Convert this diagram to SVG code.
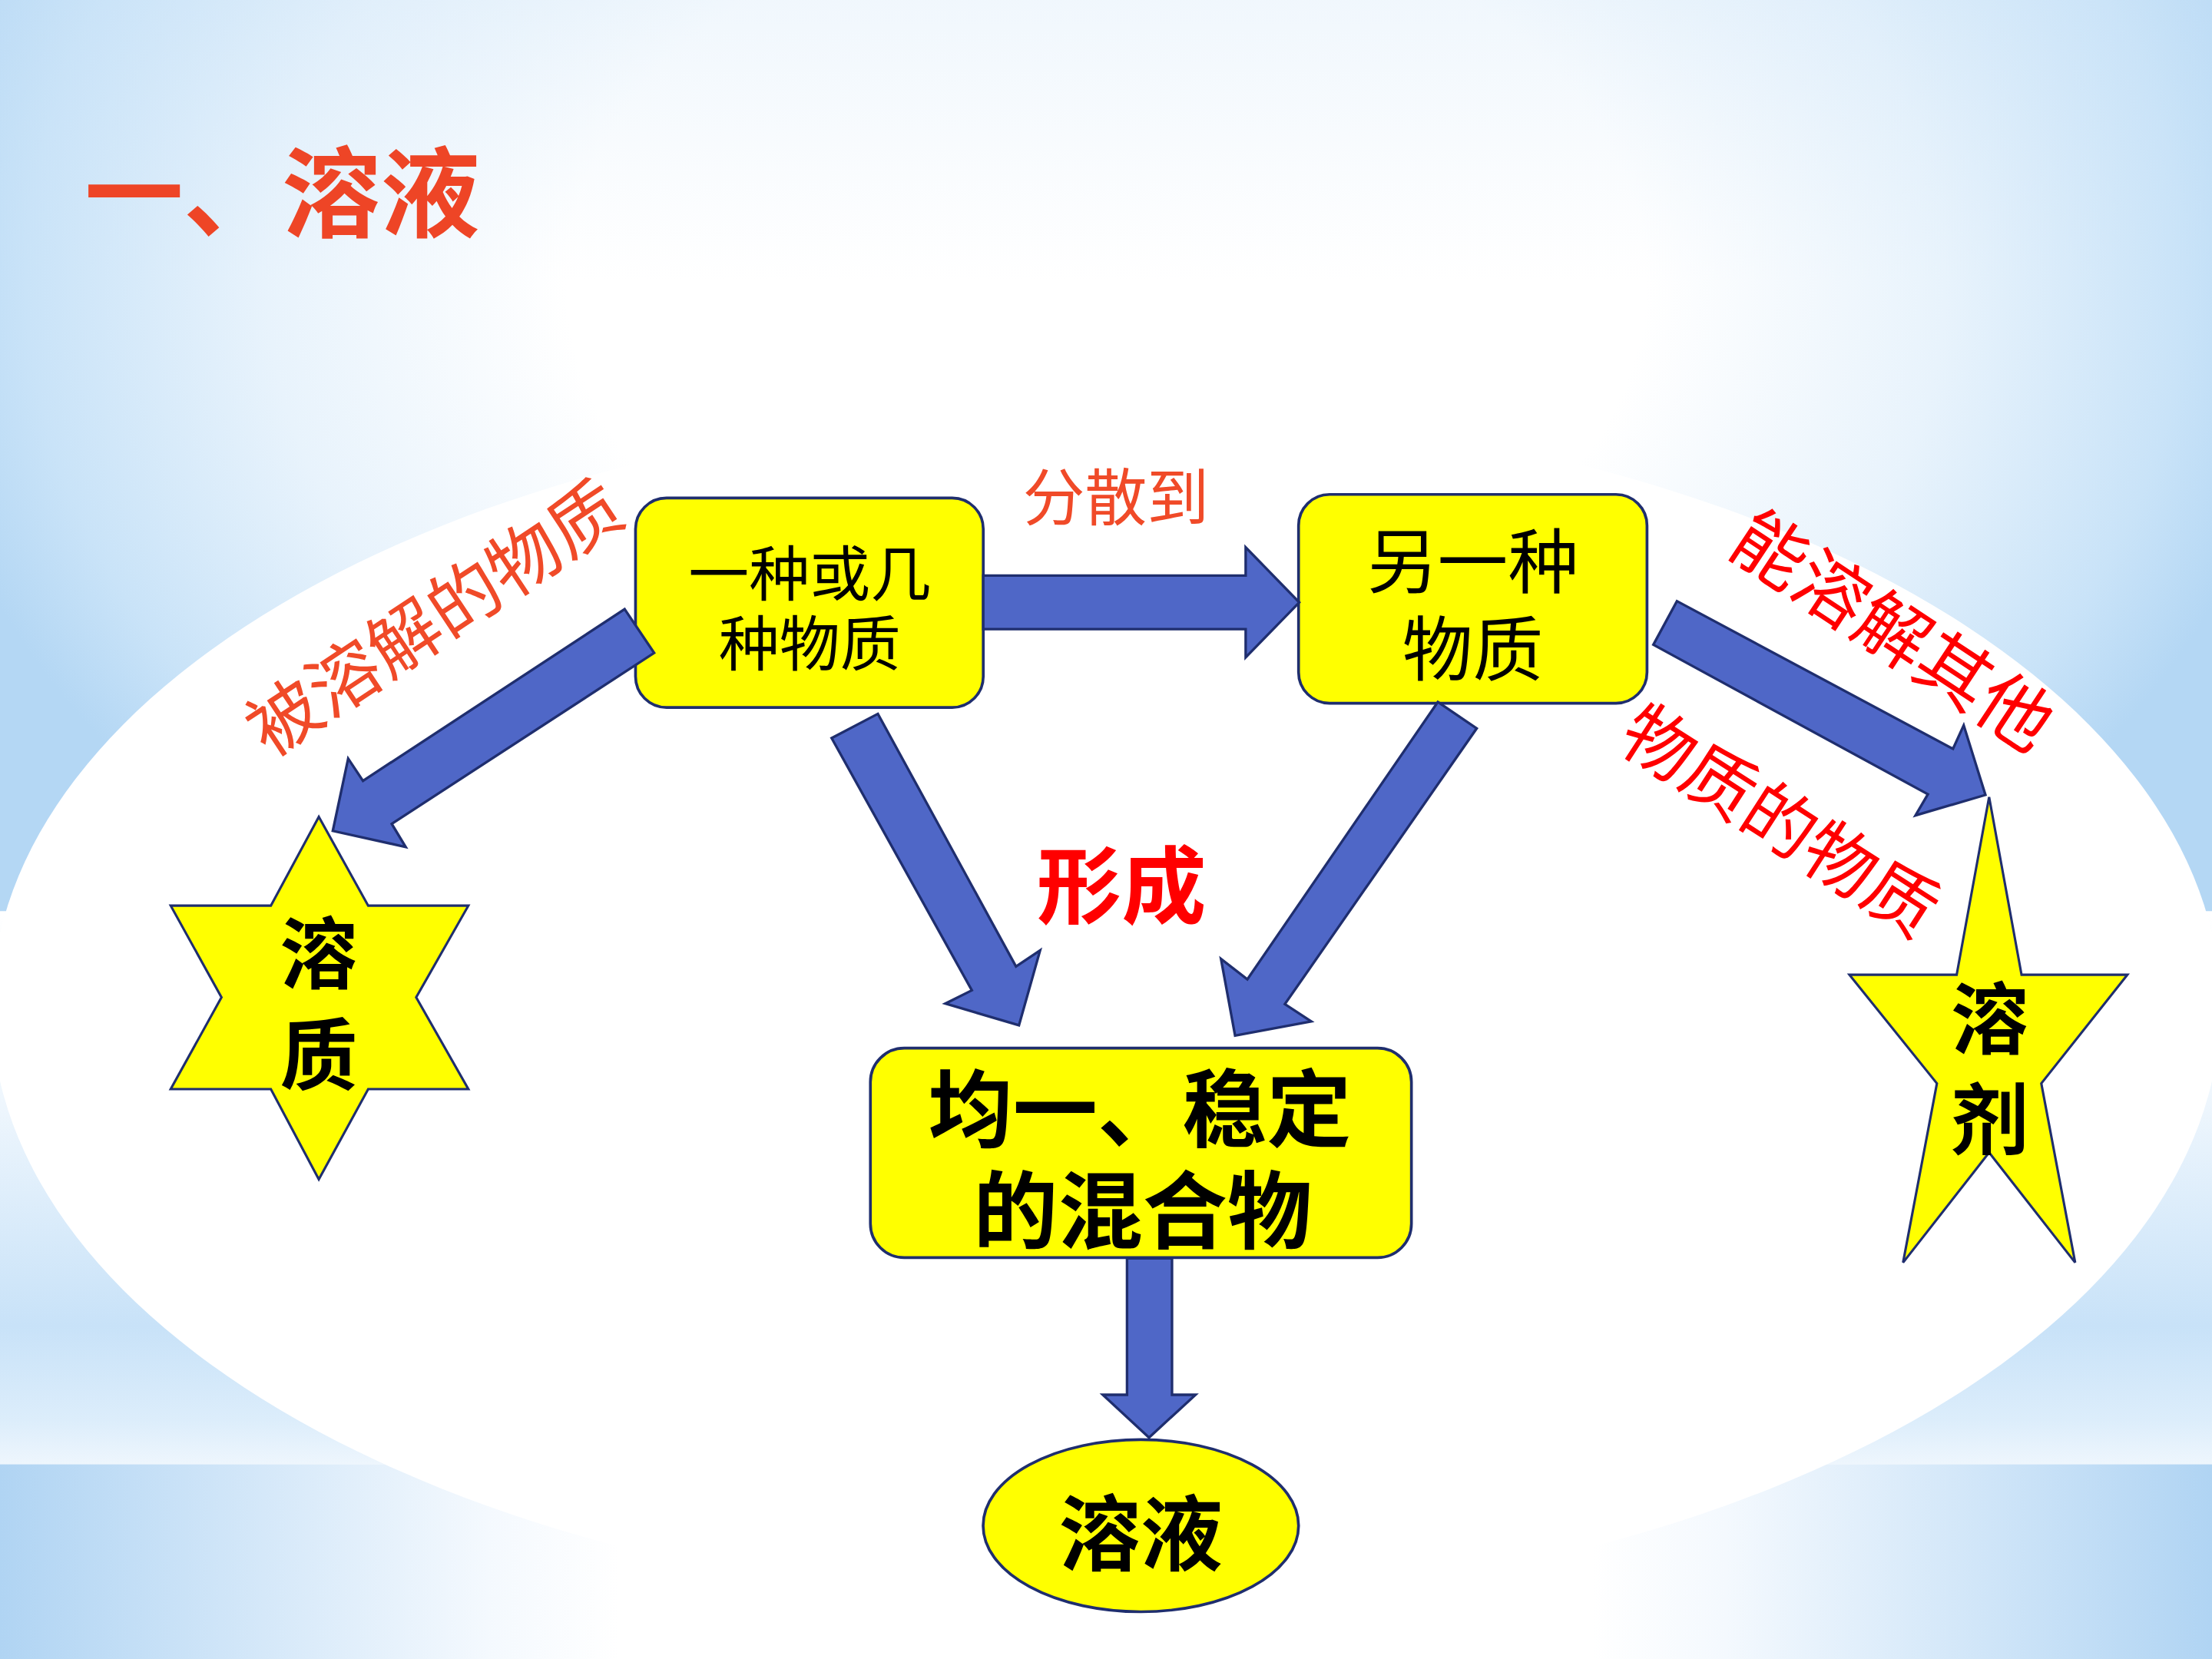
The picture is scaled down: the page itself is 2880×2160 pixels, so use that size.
<svg xmlns="http://www.w3.org/2000/svg" width="2880" height="2160" viewBox="0 0 2880 2160">
<style>
.box{fill:#ffff00;stroke:#1f2e6e;stroke-width:2}
.star{fill:#ffff00;stroke:#1f2e6e;stroke-width:1.7;stroke-linejoin:miter}
.arrow{fill:#4f67c7;stroke:#1f2e6e;stroke-width:1.8;stroke-linejoin:miter}
.cjk{font-family:"Liberation Sans","Noto Sans CJK SC","Noto Sans CJK TC",sans-serif;text-anchor:middle}
.blk{fill:#000000}
.org{fill:#f04a28}
.red{fill:#ff0000}
.b{font-weight:700}
</style>
<defs>
<radialGradient id="bgTop" gradientUnits="userSpaceOnUse" cx="784" cy="200" r="850" gradientTransform="translate(784 200) scale(1 0.7) translate(-784 -200)">
<stop offset="0" stop-color="#ffffff"/>
<stop offset="0.45" stop-color="#ffffff"/>
<stop offset="0.7" stop-color="#e8f3fc"/>
<stop offset="0.9" stop-color="#c9e3f8"/>
<stop offset="1" stop-color="#b4d7f4"/>
</radialGradient>
<linearGradient id="bgTopFade" x1="0" y1="0" x2="0" y2="1">
<stop offset="0" stop-color="#cfe5f8" stop-opacity="0.3"/>
<stop offset="1" stop-color="#cfe5f8" stop-opacity="0"/>
</linearGradient>
<linearGradient id="bgMid" x1="0" y1="0" x2="0" y2="1">
<stop offset="0" stop-color="#ffffff"/>
<stop offset="0.35" stop-color="#eef6fd"/>
<stop offset="0.75" stop-color="#c8e2f8"/>
<stop offset="0.92" stop-color="#dcedfb"/>
<stop offset="1" stop-color="#eef6fd"/>
</linearGradient>
<linearGradient id="bgBot" x1="0" y1="0" x2="1" y2="0">
<stop offset="0" stop-color="#b0d4f3"/>
<stop offset="0.22" stop-color="#f4f9fe"/>
<stop offset="0.28" stop-color="#ffffff"/>
<stop offset="0.72" stop-color="#ffffff"/>
<stop offset="0.78" stop-color="#f4f9fe"/>
<stop offset="1" stop-color="#b0d4f3"/>
</linearGradient>
</defs>
<g transform="scale(1.8367347)">
<g id="background">
<rect x="0" y="0" width="1568" height="646" fill="url(#bgTop)"/>
<rect x="0" y="0" width="1568" height="200" fill="url(#bgTopFade)"/>
<rect x="0" y="646" width="1568" height="392" fill="url(#bgMid)"/>
<rect x="0" y="1038" width="1568" height="138" fill="url(#bgBot)"/>
<ellipse cx="784" cy="714" rx="790" ry="425" fill="#ffffff"/>
</g>
<g id="title">
<text x="60" y="163" class="cjk b" style="text-anchor:start" font-size="70" fill="#ee4526">一、溶液</text>
</g>
<g id="node-solute-source">
<rect class="box" x="450.5" y="353" width="246.5" height="148.5" rx="22"/>
<text class="cjk blk" font-size="43"><tspan x="574" y="422.5">一种或几</tspan><tspan x="574" y="472">种物质</tspan></text>
</g>
<g id="node-other-substance">
<rect class="box" x="920.5" y="350.5" width="247" height="148" rx="22"/>
<text class="cjk blk" font-size="50"><tspan x="1044" y="416.5">另一种</tspan><tspan x="1044" y="478.5">物质</tspan></text>
</g>
<g id="node-mixture">
<rect class="box" x="617" y="743" width="383.5" height="148.5" rx="24"/>
<text class="cjk blk b" font-size="60"><tspan x="808" y="808.5">均一、稳定</tspan><tspan x="810" y="880.5">的混合物</tspan></text>
</g>
<g id="node-solution">
<ellipse class="box" cx="808.7" cy="1081.5" rx="111.8" ry="61"/>
<text class="cjk blk b" font-size="58" x="808.7" y="1108.5">溶液</text>
</g>
<g id="node-solute">
<polygon class="star" points="226,579 261,642 332,642 295,707 332,772 261,772 226,836 192,772 121,772 157,707 121,642 192,642"/>
<text class="cjk blk b" font-size="55"><tspan x="226" y="696.5">溶</tspan><tspan x="226" y="768">质</tspan></text>
</g>
<g id="node-solvent">
<polygon class="star" points="1410,565 1433,691 1508,691 1447,768 1471,895 1410,817 1349,895 1373,768 1311,691 1387,691"/>
<text class="cjk blk b" font-size="55"><tspan x="1410.5" y="742.5">溶</tspan><tspan x="1410.5" y="814">剂</tspan></text>
</g>
<g id="connectors">
<polygon class="arrow" points="697,408 883,408 883,388 921,427 883,466 883,446 697,446"/>
<polygon class="arrow" points="442.8,431.8 463.7,462.8 277.7,584 287.6,600.4 235.9,589 246.8,537.7 257.3,553.5"/>
<polygon class="arrow" points="589.5,523.2 622.3,506 720.2,685.1 737.3,673.7 722.3,726.8 670.1,711.4 688.9,702"/>
<polygon class="arrow" points="1019.2,497.6 1046.8,516.3 910.8,711.8 929.5,724.1 875.5,734.1 865.5,679.7 884.2,694.2"/>
<polygon class="arrow" points="1188.7,426.1 1384.4,530.8 1392,514.1 1407.4,563.5 1357.8,578 1366.6,563 1172,457"/>
<polygon class="arrow" points="798.9,892 830.8,892 830.8,988.7 847.5,988.7 814.5,1019 781.7,988.7 798.9,988.7"/>
</g>
<g id="labels">
<text class="cjk org" font-size="44" x="791" y="368.5">分散到</text>
<text class="cjk org" font-size="51" transform="translate(308 438) rotate(-33.5)" x="0" y="18.5">被溶解的物质</text>
<text class="cjk red" font-size="52" transform="translate(1342 447) rotate(33.5)" x="0" y="19">能溶解其他</text>
<text class="cjk red" font-size="51" transform="translate(1262 581.5) rotate(32.8)" x="0" y="19">物质的物质</text>
<text class="cjk red b" font-size="60" x="795" y="650">形成</text>
</g>
</g>
</svg>
